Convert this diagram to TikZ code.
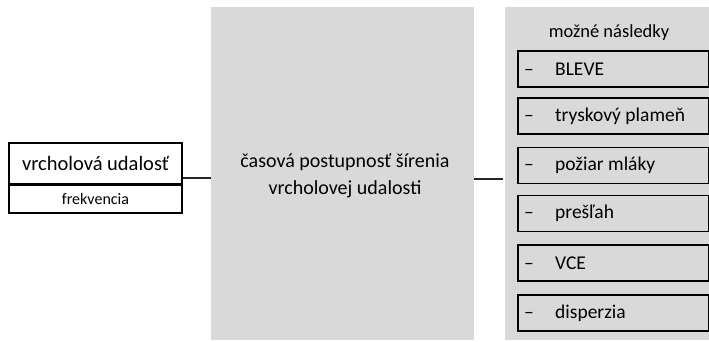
\documentclass[tikz,border=0pt]{standalone}
\usepackage{fontspec}
\setmainfont{Carlito}
\begin{document}
\begin{tikzpicture}[x=1pt,y=-1pt,
  panel/.style={fill=black!15,draw=none,inner sep=0pt},
  whitebox/.style={draw=black,line width=1.8pt,fill=white,inner sep=0pt},
  item/.style={draw=black,line width=1.8pt,fill=black!15,inner sep=0pt,
    minimum width=191pt,minimum height=36pt,anchor=north west},
  link/.style={line width=1.8pt,draw=black!85}]
\useasboundingbox (0,0) rectangle (709,341);

% top event with its frequency
\node[whitebox,minimum width=173pt,minimum height=41pt,font=\fontsize{20.5}{24}\selectfont]
  (event) at (95.5,163.5) {vrcholová udalosť};
\node[whitebox,minimum width=173pt,minimum height=29pt,font=\fontsize{16}{18}\selectfont]
  (freq) at (95.5,198.5) {frekvencia};
\draw[line width=2.6pt] (event.south west) -- (event.south east);

% propagation panel
\node[panel,minimum width=263pt,minimum height=333pt] (chain) at (342.5,173.5) {};
\node[align=center,font=\fontsize{20}{27}\selectfont] (chaintext) at (345,176)
  {časová postupnosť šírenia\\vrcholovej udalosti};

% consequences panel
\node[panel,minimum width=204pt,minimum height=333pt] (outc) at (607,173.5) {};
\node[font=\fontsize{18.5}{20}\selectfont] (head) at (609,33) {možné následky};

\foreach \name/\top/\txt in {b1/50/BLEVE, b2/97/tryskový plameň, b3/146.5/požiar mláky,
    b4/194.5/prešľah, b5/244/VCE, b6/294/disperzia}{
  \node[item] (\name) at (517,\top) {};
  \node[anchor=west,inner sep=0pt,font=\fontsize{19.5}{20}\selectfont]
    at ([xshift=7pt]\name.west) {\makebox[31pt][l]{–}\txt};
}

% connectors
\draw[link] ([yshift=-14.5pt]event.east) -- ([yshift=-4.5pt]chain.west);
\draw[link] ([yshift=-5.5pt]chain.east) -- ([yshift=-5.5pt,xshift=-2pt]outc.west);
\end{tikzpicture}
\end{document}
